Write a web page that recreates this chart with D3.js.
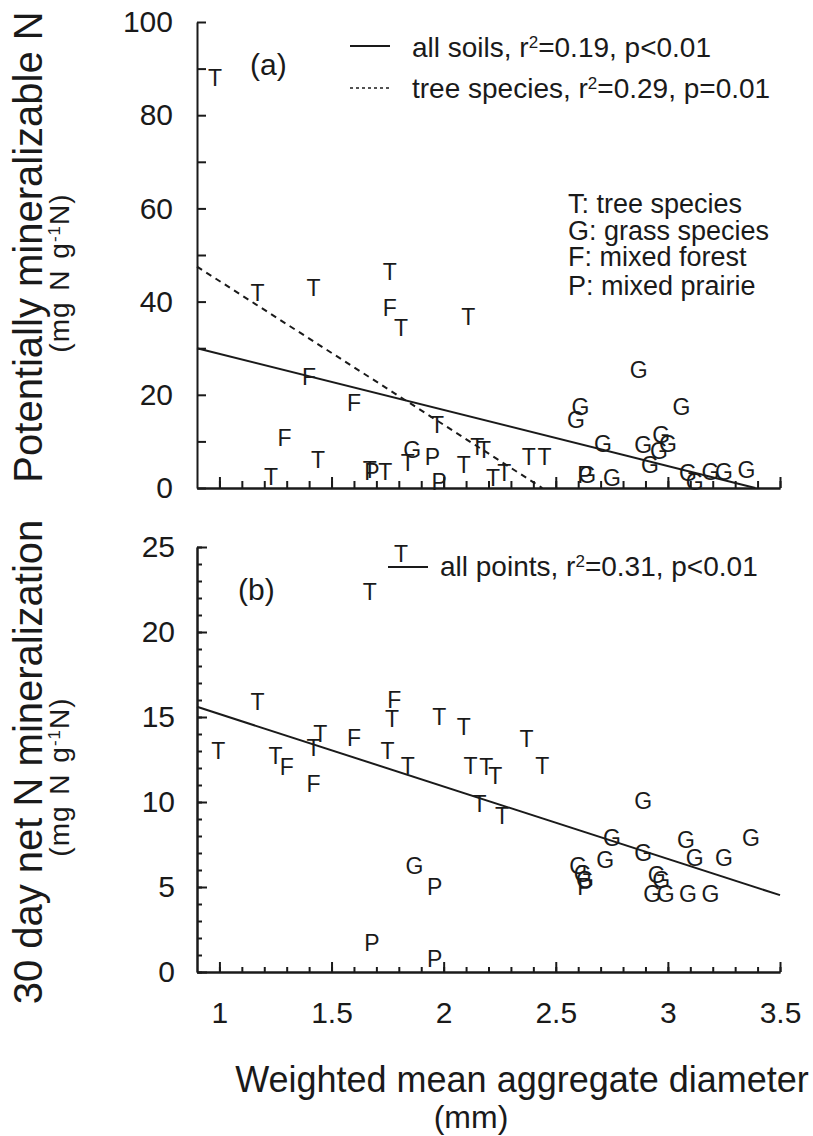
<!DOCTYPE html>
<html>
<head>
<meta charset="utf-8">
<script src="https://cdn.jsdelivr.net/npm/d3@7"></script>
<style>
  body { margin: 0; background: #fff; }
  svg text { font-family: "Liberation Sans", Arial, Helvetica, sans-serif; fill: #1a1a1a; }
</style>
</head>
<body>
<svg id="chart" width="813" height="1136"></svg>
<script>
// panel (a): potentially mineralizable N
const aType = ['T','T','T','T','F','T','T','F','F','F','T','T','P','T','T','T','G','P','P','T','T','T','T','T','T','T','T',
               'G','G','G','G','G','G','G','G','G','G','P','G','G','G','G','G','G','G'];
const aX = [0.98,1.17,1.42,1.76,1.76,1.81,2.11,1.40,1.60,1.29,1.44,1.23,1.68,1.67,1.74,1.84,1.86,1.95,1.98,1.97,2.09,2.15,2.18,2.38,2.45,2.22,2.27,
            2.87,2.61,2.59,3.06,2.71,2.89,2.97,3.00,2.96,2.92,2.63,2.64,2.75,3.09,3.12,3.19,3.25,3.35];
const aY = [88,41.8,42.9,46.4,38.6,34.3,36.8,23.9,18.2,10.7,6.1,2.5,3.6,3.9,3.6,5.4,8.2,6.8,1.4,13.6,5.0,8.9,8.2,6.8,6.8,2.1,3.2,
            25.4,17.5,14.6,17.5,9.6,9.3,11.4,9.6,7.9,5.0,2.9,2.9,2.1,3.2,1.4,3.6,3.6,3.9];
const aFitAllX = [0.9, 3.39], aFitAllY = [30, 0];
const aFitTreeX = [0.9, 2.44], aFitTreeY = [47.5, 0];

// panel (b): 30 day net N mineralization
const bType = ['T','T','T','T','T','F','T','T','F','F','F','T','T','T','T','T','T','T','T','T','T','T','T',
               'G','G','G','G','G','G','G','G','G','G','G','G','P','P','G','G','G','G','G','G','P','P'];
const bX = [1.81,1.67,1.17,0.995,1.25,1.30,1.45,1.42,1.42,1.60,1.78,1.77,1.75,1.84,1.98,2.09,2.12,2.19,2.23,2.37,2.44,2.16,2.26,
            2.89,2.75,3.08,3.37,2.89,2.72,3.12,3.25,2.60,2.62,2.63,1.87,1.96,2.63,2.95,2.97,2.93,2.99,3.09,3.19,1.68,1.96];
const bY = [24.6,22.35,15.9,13.0,12.75,12.06,14.0,13.2,11.1,13.8,16.0,14.9,13.0,12.15,15.0,14.4,12.15,12.05,11.55,13.7,12.15,9.9,9.2,
            10.1,7.9,7.8,7.9,7.0,6.6,6.7,6.7,6.25,5.8,5.4,6.25,5.0,5.0,5.7,5.4,4.6,4.6,4.6,4.6,1.7,0.8];
const bFitX = [0.9, 3.5], bFitY = [15.6, 4.52];

const xMajor = [1, 1.5, 2, 2.5, 3, 3.5];
const xMinor = d3.range(10, 36).map(d => d / 10);
const aTicks = [0, 20, 40, 60, 80, 100];
const bTicks = [0, 5, 10, 15, 20, 25];
const keyLines = ['T: tree species', 'G: grass species', 'F: mixed forest', 'P: mixed prairie'];

const svg = d3.select('#chart');
const ink = '#1a1a1a';

const x = d3.scaleLinear().domain([0.9, 3.5]).range([197, 780]);
const yA = d3.scaleLinear().domain([0, 100]).range([488, 22]);
const yB = d3.scaleLinear().domain([0, 25]).range([972, 547]);

function styleAxis(g) {
  g.selectAll('path, line').attr('stroke', ink).attr('stroke-width', 2);
  g.selectAll('text').attr('fill', ink).style('font-size', '30px');
}

// panel (a) axes
svg.append('g').attr('transform', 'translate(0,488)')
  .call(d3.axisBottom(x).tickValues(xMinor).tickSize(-7).tickSizeOuter(0).tickFormat(''))
  .call(styleAxis);
svg.append('g').attr('transform', 'translate(0,488)')
  .call(d3.axisBottom(x).tickValues(xMajor).tickSize(-11).tickSizeOuter(0).tickFormat(''))
  .call(styleAxis);
svg.append('g').attr('transform', 'translate(197,0)')
  .call(d3.axisLeft(yA).tickValues(d3.range(0, 101, 10)).tickSize(-9).tickSizeOuter(0).tickPadding(24).tickFormat(d => aTicks.includes(d) ? d : ''))
  .call(styleAxis);

// panel (b) axes
svg.append('g').attr('transform', 'translate(0,972)')
  .call(d3.axisBottom(x).tickValues(xMinor).tickSize(-5).tickSizeOuter(0).tickFormat(''))
  .call(styleAxis);
svg.append('g').attr('transform', 'translate(0,972)')
  .call(d3.axisBottom(x).tickValues(xMajor).tickSize(-10).tickSizeOuter(0).tickPadding(30).tickFormat(d3.format('')))
  .call(styleAxis);
svg.append('g').attr('transform', 'translate(197,0)')
  .call(d3.axisLeft(yB).tickValues(d3.range(0, 26)).tickSize(-5).tickSizeOuter(0).tickFormat(''))
  .call(styleAxis);
svg.append('g').attr('transform', 'translate(197,0)')
  .call(d3.axisLeft(yB).tickValues(bTicks).tickSize(-10).tickSizeOuter(0).tickPadding(22))
  .call(styleAxis);

// regression lines
const lineA = d3.line().x(d => x(d[0])).y(d => yA(d[1]));
const lineB = d3.line().x(d => x(d[0])).y(d => yB(d[1]));
svg.append('path').attr('d', lineA(d3.zip(aFitAllX, aFitAllY)))
  .attr('stroke', ink).attr('stroke-width', 2).attr('fill', 'none');
svg.append('path').attr('d', lineA(d3.zip(aFitTreeX, aFitTreeY)))
  .attr('stroke', ink).attr('stroke-width', 2).attr('stroke-dasharray', '6,5').attr('fill', 'none');
svg.append('path').attr('d', lineB(d3.zip(bFitX, bFitY)))
  .attr('stroke', ink).attr('stroke-width', 2).attr('fill', 'none');

// letter markers
function markers(types, xs, ys, yScale) {
  svg.append('g').selectAll('text')
    .data(d3.zip(types, xs, ys))
    .enter().append('text')
    .attr('x', d => x(d[1]))
    .attr('y', d => yScale(d[2]))
    .attr('dy', '0.36em')
    .attr('text-anchor', 'middle')
    .style('font-size', '23px')
    .text(d => d[0]);
}
markers(aType, aX, aY, yA);
markers(bType, bX, bY, yB);

// text with superscripts: parts = [[text, isSup], ...]
function richText(xp, yp, size, parts, anchor) {
  const t = svg.append('text').attr('x', xp).attr('y', yp)
    .style('font-size', size + 'px').attr('text-anchor', anchor || 'start');
  parts.forEach(p => {
    const s = t.append('tspan').text(p[0]);
    if (p[1]) s.attr('baseline-shift', 'super').style('font-size', Math.round(size * 0.6) + 'px');
  });
  return t;
}

// panel labels and legends
svg.append('text').attr('x', 250).attr('y', 75).style('font-size', '30px').text('(a)');
svg.append('text').attr('x', 238).attr('y', 600).style('font-size', '30px').text('(b)');

svg.append('line').attr('x1', 350).attr('x2', 390).attr('y1', 46).attr('y2', 46)
  .attr('stroke', ink).attr('stroke-width', 2);
richText(412, 57, 28, [['all soils, r'], ['2', true], ['=0.19, p<0.01']]);
svg.append('line').attr('x1', 350).attr('x2', 390).attr('y1', 88).attr('y2', 88)
  .attr('stroke', ink).attr('stroke-width', 1.5).attr('stroke-dasharray', '3,3');
richText(412, 98, 28, [['tree species, r'], ['2', true], ['=0.29, p=0.01']]);

keyLines.forEach((s, i) => {
  svg.append('text').attr('x', 568).attr('y', [213, 240, 266, 295][i]).style('font-size', '27px').text(s);
});

svg.append('line').attr('x1', 388).attr('x2', 428).attr('y1', 567).attr('y2', 567)
  .attr('stroke', ink).attr('stroke-width', 2);
richText(440, 576, 28, [['all points, r'], ['2', true], ['=0.31, p<0.01']]);

// axis titles
richText(0, 0, 40, [['Potentially mineralizable N']], 'middle').attr('transform', 'translate(42,247) rotate(-90)');
richText(0, 0, 28, [['(mg N g'], ['-1', true], ['N)']], 'middle').attr('transform', 'translate(69,273) rotate(-90)')
  .style('letter-spacing', '1px').style('word-spacing', '2px');
richText(0, 0, 40, [['30 day net N mineralization']], 'middle').attr('transform', 'translate(42,762) rotate(-90)');
richText(0, 0, 28, [['(mg N g'], ['-1', true], ['N)']], 'middle').attr('transform', 'translate(69,777) rotate(-90)')
  .style('letter-spacing', '1px').style('word-spacing', '2px');

svg.append('text').attr('x', 522).attr('y', 1092).attr('text-anchor', 'middle').style('font-size', '36px')
  .text('Weighted mean aggregate diameter');
svg.append('text').attr('x', 471).attr('y', 1128).attr('text-anchor', 'middle').style('font-size', '32px')
  .text('(mm)');
</script>
</body>
</html>
